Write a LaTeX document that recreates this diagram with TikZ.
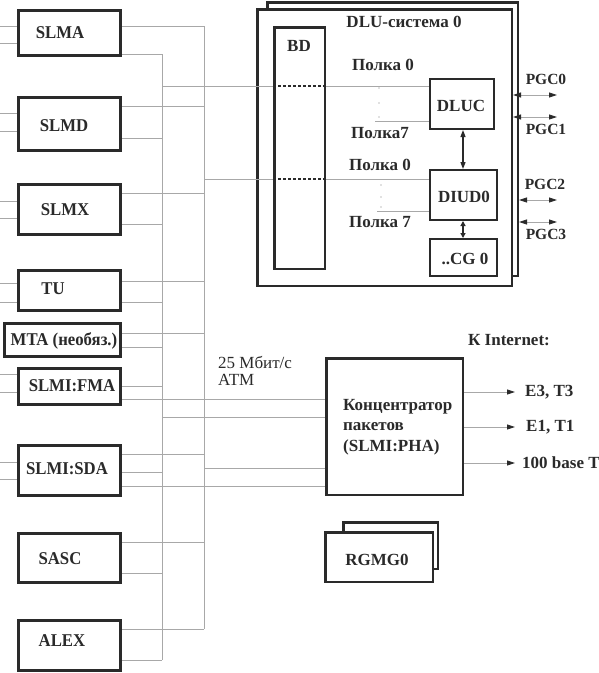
\documentclass[tikz,border=0pt]{standalone}
\usepackage{fontspec}
\setmainfont{Liberation Serif}
\newfontfamily\boxfont[FakeStretch=0.93]{Liberation Serif}
\usetikzlibrary{arrows.meta}
\definecolor{frame}{HTML}{2A2A2A}
\definecolor{wirec}{HTML}{A8A8A8}
\tikzset{ptip/.tip={Triangle[length=8pt,width=5pt,color=frame]}}
\begin{document}
\begin{tikzpicture}[x=1pt,y=-1pt,
  bigbox/.style={draw=frame,line width=3pt,fill=white,inner sep=0pt,anchor=north west},
  midbox/.style={draw=frame,line width=2.5pt,fill=white,inner sep=0pt,anchor=north west},
  smallbox/.style={draw=frame,line width=2pt,fill=white,inner sep=0pt,anchor=north west},
  wire/.style={draw=wirec,line width=0.9pt},
  bl/.style={font=\boxfont\fontsize{18}{20}\selectfont\bfseries,inner sep=0pt,text=frame},
  sl/.style={font=\fontsize{17}{19}\selectfont\bfseries,inner sep=0pt,text=frame},
  pl/.style={font=\fontsize{15.5}{18}\selectfont\bfseries,inner sep=0pt,text=frame},
  rl/.style={font=\fontsize{17}{19}\selectfont,inner sep=0pt,text=frame},
  darrow/.style={draw=frame,line width=1.2pt,{Triangle[length=7pt,width=5pt]}-{Triangle[length=7pt,width=5pt]}}
]
\useasboundingbox (0,0) rectangle (599,673);
\fill[white] (0,0) rectangle (599,673);

% DLU frames
\node[midbox,minimum width=250.5pt,minimum height=273.5pt] (dluback) at (266,1) {};
\node[midbox,minimum width=254.5pt,minimum height=276.5pt] (dlu) at (256,8) {};

% left boxes
\node[bigbox,minimum width=102pt,minimum height=45pt] (slma) at (17,9) {};
\node[bigbox,minimum width=102pt,minimum height=53pt] (slmd) at (17,96) {};
\node[bigbox,minimum width=102pt,minimum height=50pt] (slmx) at (17,183) {};
\node[bigbox,minimum width=102pt,minimum height=40pt] (tu) at (17,269) {};
\node[bigbox,minimum width=116pt,minimum height=33pt] (mta) at (3,322) {};
\node[bigbox,minimum width=102pt,minimum height=36pt] (fma) at (17,367) {};
\node[bigbox,minimum width=102pt,minimum height=50pt] (sda) at (17,444) {};
\node[bigbox,minimum width=102pt,minimum height=49pt] (sasc) at (17,532) {};
\node[bigbox,minimum width=102pt,minimum height=50pt] (alex) at (17,619) {};

% concentrator
\node[midbox,minimum width=136.5pt,minimum height=136.5pt] (conc) at (325,357) {};

% buses
\coordinate (b1top) at (162,54);
\coordinate (b1bot) at (162,660);
\coordinate (b2top) at (204,26);
\coordinate (b2bot) at (204,629);
\draw[wire] (b1top) -- (b1bot);
\draw[wire] (b2top) -- (b2bot);

% left stubs
\foreach \n/\ya/\yb in {slma/26/43, slmd/113/131, slmx/201/218, tu/283/302, fma/374/392, sda/462/479}{
  \draw[wire] (\n.west |- 0,\ya) -- ++(-17,0);
  \draw[wire] (\n.west |- 0,\yb) -- ++(-17,0);
}

% box outputs to buses
\draw[wire] (slma.east |- 0,26) -- (b2top);
\draw[wire] (slma.east |- 0,54) -- (b1top);
\foreach \n/\ya/\yb in {slmd/106/138, slmx/193/224, tu/281/302, mta/333/347, sda/454/472, sasc/542/573}{
  \draw[wire] (\n.east |- 0,\ya) -- (b2top |- 0,\ya);
  \draw[wire] (\n.east |- 0,\yb) -- (b1top |- 0,\yb);
}
\draw[wire] (fma.east |- 0,386) -- (b1top |- 0,386);
\draw[wire] (alex.east |- 0,629) -- (b2bot);
\draw[wire] (alex.east |- 0,660) -- (b1bot);

% lines to concentrator
\draw[wire] (fma.east |- 0,399) -- (conc.west |- 0,399);
\draw[wire] (b1top |- 0,417) -- (conc.west |- 0,417);
\draw[wire] (b2top |- 0,468) -- (conc.west |- 0,468);
\draw[wire] (sda.east |- 0,486) -- (conc.west |- 0,486);

% DLU inner boxes
\node[smallbox,minimum width=64pt,minimum height=50pt] (dluc) at (429,78) {};
\node[smallbox,minimum width=67pt,minimum height=50pt] (diud) at (429,169) {};
\node[smallbox,minimum width=67pt,minimum height=37pt] (cg) at (429,238) {};

% lines to DLU
\draw[wire] (b1top |- 0,86) -- (dluc.west |- 0,86);
\draw[wire] (b2top |- 0,179) -- (diud.west |- 0,179);
\draw[wire] (375,121) -- (dluc.west |- 0,121);
\draw[wire] (377,211) -- (diud.west |- 0,211);

% BD
\node[midbox,minimum width=50.5pt,minimum height=241.5pt] (bd) at (273,26) {};
\draw[frame,line width=1.3pt,dash pattern=on 2.5pt off 2.5pt] (bd.west |- 0,86) -- (bd.east |- 0,86);
\draw[frame,line width=1.3pt,dash pattern=on 2.5pt off 2.5pt] (bd.west |- 0,179) -- (bd.east |- 0,179);

% dots
\foreach \y in {88,103,117} \fill[frame!60] (379,\y) circle (0.6pt);
\foreach \y in {185,197,207} \fill[frame!60] (381,\y) circle (0.6pt);

% internal arrows
\draw[darrow] (dluc.south -| 463,0) -- (diud.north -| 463,0);
\draw[draw=frame,line width=1.2pt,{Triangle[length=5pt,width=5pt]}-{Triangle[length=5pt,width=5pt]}] (diud.south -| 463,0) -- (cg.north -| 463,0);

% PGC arrows
\draw[wire,{ptip}-{ptip}] (dlu.east |- 0,95) -- (557,95);
\draw[wire,{ptip}-{ptip}] (dlu.east |- 0,117) -- (557,117);
\draw[wire,{ptip}-{ptip}] (dluback.east |- 0,200) -- (557,200);
\draw[wire,{ptip}-{ptip}] (dluback.east |- 0,222) -- (557,222);

% concentrator outputs
\draw[wire,-{ptip}] (conc.east |- 0,392) -- (515,392);
\draw[wire,-{ptip}] (conc.east |- 0,427) -- (515,427);
\draw[wire,-{ptip}] (conc.east |- 0,463) -- (515,463);

% RGMG
\node[midbox,minimum width=94.5pt,minimum height=46.5pt] (rgback) at (342,521) {};
\node[midbox,minimum width=107.5pt,minimum height=49.5pt] (rg) at (324,531) {};

% labels
\node[bl] (tslma) at (60,33) {SLMA};
\node[bl] (tslmd) at (64,126) {SLMD};
\node[bl] (tslmx) at (65,210) {SLMX};
\node[bl] (ttu) at (53,289) {TU};
\node[bl] (tmta) at (64,341) {MTA (необяз.)};
\node[bl] (tfma) at (72,386) {SLMI:FMA};
\node[bl] (tsda) at (67,469) {SLMI:SDA};
\node[bl] (tsasc) at (60,559) {SASC};
\node[bl] (talex) at (62,641) {ALEX};

\node[sl] (tdlu) at (404,22) {DLU-система 0};
\node[sl] (tbd) at (299,46) {BD};
\node[sl] (tp0a) at (383,65) {Полка 0};
\node[sl] (tp7a) at (380,133) {Полка7};
\node[sl] (tp0b) at (380,165) {Полка 0};
\node[sl] (tp7b) at (380,222) {Полка 7};
\node[sl] (tdluc) at (461,106) {DLUC};
\node[sl] (tdiud) at (464,197) {DIUD0};
\node[sl] (tcg) at (465,259) {..CG 0};
\node[pl] (tpgc0) at (546,79) {PGC0};
\node[pl] (tpgc1) at (546,129) {PGC1};
\node[pl] (tpgc2) at (545,184) {PGC2};
\node[pl] (tpgc3) at (546,234) {PGC3};

\node[sl] (tinet) at (509,340) {К Internet:};
\node[rl,anchor=west] (tatm1) at (218,362) {25 Мбит/с};
\node[rl,anchor=west] (tatm2) at (218,380) {АТМ};
\node[sl,anchor=west] (tc1) at (343,407) {Концентратор};
\node[sl,anchor=west] (tc2) at (343,427) {пакетов};
\node[sl,anchor=west] (tc3) at (343,447) {(SLMI:PHA)};
\node[sl,anchor=west] (te3) at (525,392) {E3, T3};
\node[sl,anchor=west] (te1) at (526,427) {E1, T1};
\node[sl,anchor=west] (t100) at (522,463) {100 base T};
\node[sl] (trg) at (377,560) {RGMG0};
\end{tikzpicture}
\end{document}
